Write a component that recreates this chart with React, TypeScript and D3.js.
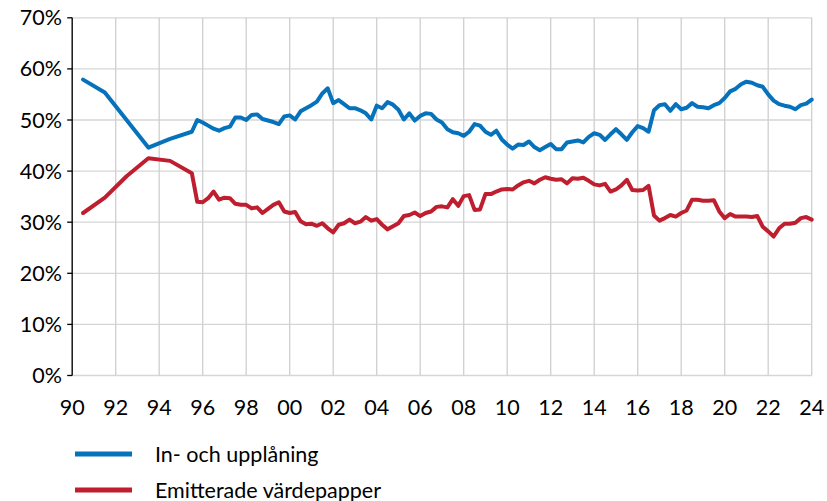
import React from "react";
import * as d3 from "d3";

// Early annual observations (mid-year)
const earlyYears = [1990.5, 1991.5, 1992.5, 1993.5, 1994.5, 1995.5];
const earlyBlue = [57.9, 55.4, 50.0, 44.6, 46.3, 47.7];
const earlyRed = [31.8, 34.8, 39.0, 42.5, 42.0, 39.6];

// Quarterly observations from 1995.75 to 2024.0
const quarterStart = 1995.75;
const blueQ = [
  50.0, 49.5, 48.9, 48.3, 47.9, 48.4, 48.7, 50.5, 50.5, 50.0,
  51.0, 51.1, 50.2, 49.9, 49.6, 49.2, 50.7, 50.9, 50.1, 51.7,
  52.3, 52.9, 53.6, 55.2, 56.2, 53.3, 53.9, 53.1, 52.3, 52.3,
  51.9, 51.3, 50.1, 52.8, 52.3, 53.5, 53.0, 52.0, 50.1, 51.3,
  49.9, 50.8, 51.3, 51.2, 50.1, 49.5, 48.2, 47.6, 47.4, 46.9,
  47.7, 49.2, 48.9, 47.7, 47.1, 47.9, 46.2, 45.2, 44.4, 45.2,
  45.1, 45.8, 44.7, 44.1, 44.7, 45.3, 44.3, 44.3, 45.6, 45.8,
  46.0, 45.6, 46.7, 47.4, 47.1, 46.1, 47.2, 48.2, 47.2, 46.1,
  47.6, 48.8, 48.4, 47.7, 51.9, 52.9, 53.1, 51.8, 53.1, 52.1,
  52.4, 53.3, 52.6, 52.5, 52.3, 52.9, 53.3, 54.3, 55.6, 56.1,
  57.0, 57.5, 57.3, 56.8, 56.5, 55.0, 53.8, 53.1, 52.8, 52.6,
  52.1, 52.9, 53.2, 54.0,
];
const redQ = [
  34.0, 33.9, 34.7, 36.0, 34.4, 34.8, 34.7, 33.6, 33.4, 33.4,
  32.7, 32.9, 31.8, 32.6, 33.4, 33.9, 32.1, 31.8, 32.0, 30.2,
  29.6, 29.7, 29.3, 29.8, 28.8, 28.0, 29.5, 29.8, 30.5, 29.8,
  30.1, 31.0, 30.3, 30.6, 29.5, 28.6, 29.2, 29.8, 31.2, 31.4,
  31.9, 31.2, 31.8, 32.1, 33.0, 33.1, 32.9, 34.5, 33.2, 35.1,
  35.3, 32.4, 32.5, 35.5, 35.5, 36.0, 36.4, 36.5, 36.4, 37.2,
  37.8, 38.1, 37.6, 38.3, 38.8, 38.5, 38.3, 38.4, 37.6, 38.6,
  38.5, 38.7, 38.1, 37.4, 37.2, 37.5, 36.0, 36.4, 37.2, 38.3,
  36.3, 36.2, 36.3, 37.1, 31.3, 30.3, 30.8, 31.4, 31.1, 31.8,
  32.3, 34.4, 34.4, 34.2, 34.2, 34.3, 32.1, 30.8, 31.6, 31.1,
  31.1, 31.1, 31.0, 31.2, 29.1, 28.2, 27.2, 28.8, 29.7, 29.7,
  29.9, 30.8, 31.0, 30.5,
];

const xTickYears = d3.range(1990, 2025, 2);
const xTickLabels = ["90", "92", "94", "96", "98", "00", "02", "04", "06", "08", "10", "12", "14", "16", "18", "20", "22", "24"];
const yTicks = [0, 10, 20, 30, 40, 50, 60, 70];

const seriesNames = ["In- och upplåning", "Emitterade värdepapper"];
const seriesColors = ["#0672bb", "#bf1e2e"];

type Pt = { t: number; v: number };

function buildSeries(early: number[], q: number[]): Pt[] {
  const pts: Pt[] = early.map((v, i) => ({ t: earlyYears[i], v }));
  q.forEach((v, i) => pts.push({ t: quarterStart + i * 0.25, v }));
  return pts;
}

export default function App() {
  const W = 827;
  const H = 501;
  const x = d3.scaleLinear().domain([1990, 2024]).range([72.2, 811.7]);
  const y = d3.scaleLinear().domain([0, 70]).range([375.5, 17.8]);
  const line = d3
    .line<Pt>()
    .x((d) => x(d.t))
    .y((d) => y(d.v));

  const series = [buildSeries(earlyBlue, blueQ), buildSeries(earlyRed, redQ)];
  const font = "Lato, 'Open Sans', sans-serif";
  const fs = 21.5;

  return (
    <svg
      width={W}
      height={H}
      style={{ position: "absolute", left: 0, top: 0, background: "#fff" }}
      fontFamily={font}
    >
      {/* horizontal gridlines */}
      {yTicks.map((t) => (
        <line key={"h" + t} x1={x(1990)} x2={x(2024)} y1={y(t)} y2={y(t)} stroke="#d6d6d6" strokeWidth={1.3} />
      ))}
      {/* vertical gridlines */}
      {xTickYears.map((t) => (
        <line key={"v" + t} x1={x(t)} x2={x(t)} y1={y(70)} y2={y(0)} stroke="#cfcfcf" strokeWidth={1.3} />
      ))}
      {/* y axis */}
      <line x1={x(1990)} x2={x(1990)} y1={y(70)} y2={y(0)} stroke="#000" strokeWidth={1.3} />
      {yTicks.map((t) => (
        <line key={"t" + t} x1={x(1990) - 5} x2={x(1990)} y1={y(t)} y2={y(t)} stroke="#000" strokeWidth={1.3} />
      ))}
      {yTicks.map((t) => (
        <text key={"yl" + t} x={62} y={y(t) + 7.5} textAnchor="end" fontSize={fs} fill="#000">
          {t + "%"}
        </text>
      ))}
      {xTickYears.map((t, i) => (
        <text key={"xl" + t} x={x(t)} y={415} textAnchor="middle" fontSize={fs} fill="#000">
          {xTickLabels[i]}
        </text>
      ))}
      {/* lines */}
      {series.map((s, i) => (
        <path
          key={"s" + i}
          d={line(s) || ""}
          fill="none"
          stroke={seriesColors[i]}
          strokeWidth={4}
          strokeLinejoin="round"
          strokeLinecap="round"
        />
      ))}
      {/* legend */}
      {seriesNames.map((n, i) => (
        <g key={"lg" + i} transform={`translate(0, ${454 + i * 36})`}>
          <line x1={75} x2={132} y1={0} y2={0} stroke={seriesColors[i]} strokeWidth={5} />
          <text x={155} y={7.5} fontSize={fs} fill="#000">
            {n}
          </text>
        </g>
      ))}
    </svg>
  );
}
